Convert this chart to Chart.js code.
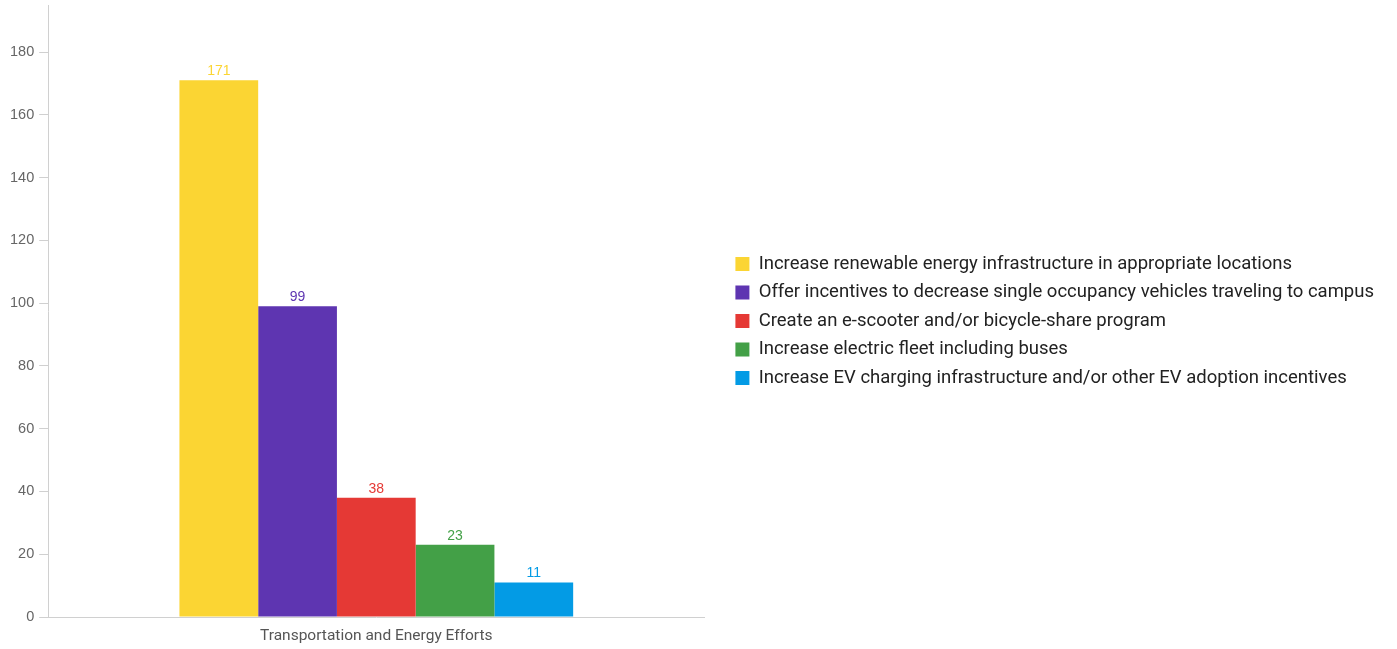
<!DOCTYPE html>
<html>
<head>
<meta charset="utf-8">
<script src="https://cdn.jsdelivr.net/npm/chart.js@4/dist/chart.umd.min.js"></script>
<style>
  html, body { margin: 0; padding: 0; background: #fff; }
  #wrap { width: 1397px; height: 649px; }
</style>
</head>
<body>
<div id="wrap"><canvas id="effortsChart"></canvas></div>
<script>
const categories = ['Transportation and Energy Efforts'];
const seriesNames = [
    'Increase renewable energy infrastructure in appropriate locations',
    'Offer incentives to decrease single occupancy vehicles traveling to campus',
    'Create an e-scooter and/or bicycle-share program',
    'Increase electric fleet including buses',
    'Increase EV charging infrastructure and/or other EV adoption incentives'
];
const seriesValues = [171, 99, 38, 23, 11];
const seriesColors = ['#FBD533', '#5E35B1', '#E53935', '#43A047', '#039BE5'];
const yTicks = [0, 20, 40, 60, 80, 100, 120, 140, 160, 180];

// valores em cima das barras
const barLabels = {
    id: 'barLabels',
    afterDatasetsDraw(chart) {
        const ctx = chart.ctx;
        ctx.save();
        ctx.font = '14px "Liberation Sans", Arial, sans-serif';
        ctx.textAlign = 'center';
        ctx.textBaseline = 'bottom';
        chart.data.datasets.forEach((ds, i) => {
            const meta = chart.getDatasetMeta(i);
            meta.data.forEach((bar, j) => {
                ctx.fillStyle = ds.backgroundColor;
                ctx.fillText(ds.data[j], bar.x, bar.y - 2);
            });
        });
        ctx.restore();
    }
};

// espaço extra à esquerda da legenda (e leve subida)
const legendGap = {
    id: 'legendGap',
    afterInit(chart) {
        const legend = chart.legend;
        if (!legend) return;
        const fit = legend.fit;
        legend.fit = function () {
            fit.call(this);
            this.width += 21;
        };
        const draw = legend.draw;
        legend.draw = function () {
            this.left += 21;
            this.top -= 6;
            this.bottom -= 6;
            draw.call(this);
            this.left -= 21;
            this.top += 6;
            this.bottom += 6;
        };
    }
};

window.onload = function () {
    const ctx = document.getElementById('effortsChart').getContext('2d');
    const chart = new Chart(ctx, {
        type: 'bar',
        data: {
            labels: categories,
            datasets: seriesNames.map((name, i) => ({
                label: name,
                data: [seriesValues[i]],
                backgroundColor: seriesColors[i],
                borderWidth: 0,
                categoryPercentage: 0.6,
                barPercentage: 1.0
            }))
        },
        options: {
            responsive: true,
            maintainAspectRatio: false,
            animation: false,
            layout: { padding: { top: 5, right: 13, left: 5, bottom: 0 } },
            plugins: {
                tooltip: { enabled: false },
                legend: {
                    position: 'right',
                    align: 'center',
                    maxWidth: 720,
                    labels: {
                        boxWidth: 14,
                        boxHeight: 14,
                        padding: 10,
                        color: '#222',
                        font: { family: 'Roboto', size: 18.5 }
                    }
                }
            },
            scales: {
                x: {
                    afterFit(scale) {
                        scale.height = 32;
                    },
                    grid: { display: false, drawTicks: false },
                    border: { color: '#d0d0d0', width: 1 },
                    ticks: {
                        color: '#555',
                        padding: 10,
                        font: { family: 'Roboto', size: 15.5 }
                    }
                },
                y: {
                    min: 0,
                    max: 195,
                    afterBuildTicks(axis) {
                        axis.ticks = yTicks.map(v => ({ value: v }));
                    },
                    afterFit(scale) {
                        scale.paddingTop = 0;
                        scale.paddingBottom = 0;
                    },
                    grid: {
                        display: true,
                        drawOnChartArea: false,
                        drawTicks: true,
                        tickLength: 9,
                        color: '#d0d0d0'
                    },
                    border: { color: '#d0d0d0', width: 1 },
                    ticks: {
                        color: '#666',
                        padding: 5,
                        font: { family: '"Liberation Sans", Arial, sans-serif', size: 14.5 }
                    }
                }
            }
        },
        plugins: [barLabels, legendGap]
    });
};
</script>
</body>
</html>
